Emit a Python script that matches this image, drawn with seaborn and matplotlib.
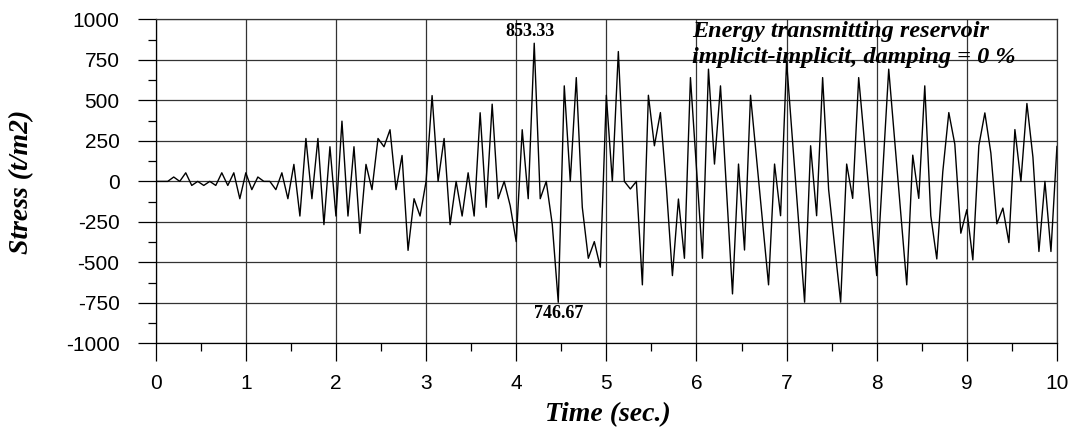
import numpy as np
import pandas as pd
import matplotlib
matplotlib.use("Agg")
import matplotlib.pyplot as plt
import seaborn as sns
from matplotlib.ticker import MultipleLocator

# ---- data ----
dt = 1.0 / 15.0
stress = [
    0, 0, 0, 27, 0, 53, -25, 0, -25, 0,
    -25, 53, -25, 53, -107, 53, -51, 27, 0, 0,
    -51, 53, -107, 105, -214, 265, -107, 265, -267, 214,
    -214, 372, -214, 214, -321, 105, -51, 265, 214, 319,
    -51, 160, -426, -107, -214, 0, 530, 0, 265, -267,
    0, -214, 53, -214, 424, -160, 477, -107, 0, -150,
    -372, 319, -107, 853.33, -107, 0, -265, -746.67, 590, 0,
    641, -160, -475, -372, -530, 532, 0, 802, 0, -47,
    0, -639, 532, 220, 425, -40, -582, -109, -475, 641,
    80, -475, 693, 107, 590, -51, -695, 107, -424, 532,
    142, -249, -639, 107, -212, 740, 250, -249, -746, 220,
    -212, 641, -51, -399, -746, 107, -105, 641, 230, -181,
    -582, 55, 693, 249, -195, -639, 162, -105, 590, -212,
    -479, 60, 425, 230, -320, -175, -485, 221, 423, 175,
    -262, -165, -378, 320, 0, 481, 150, -433, 0, -433,
    217,
]
time = np.arange(len(stress)) * dt
x_ticks = list(range(0, 11))
y_ticks = [-1000, -750, -500, -250, 0, 250, 500, 750, 1000]
title_lines = ["Energy transmitting reservoir", "implicit-implicit, damping = 0 %"]
x_label = "Time (sec.)"
y_label = "Stress (t/m2)"

df = pd.DataFrame({"time": time, "stress": stress})

sns.set_theme(style="white")
plt.rcParams["font.family"] = ["Liberation Sans", "DejaVu Sans"]
plt.rcParams["axes.unicode_minus"] = False
plt.rcParams["text.color"] = "black"

fig = plt.figure(figsize=(10.76, 4.33), dpi=100)
ax = fig.add_axes([0.1447, 0.2072, 0.8376, 0.7478])

sns.lineplot(data=df, x="time", y="stress", color="black", linewidth=1.0, ax=ax)

ax.set_xlim(0, 10)
ax.set_ylim(-1000, 1000)
ax.set_xticks(x_ticks)
ax.set_yticks(y_ticks)
ax.xaxis.set_minor_locator(MultipleLocator(0.5))
ax.yaxis.set_minor_locator(MultipleLocator(125))
ax.grid(True, which="major", color="#333333", linewidth=0.9)
ax.set_axisbelow(True)

for s in ax.spines.values():
    s.set_color("#333333")
    s.set_linewidth(0.9)
ax.spines["left"].set_color("black")
ax.spines["bottom"].set_color("black")

ax.tick_params(axis="both", which="major", direction="out", length=13,
               width=0.9, color="black", labelsize=15, labelcolor="black")
ax.tick_params(axis="both", which="minor", direction="out", length=6,
               width=0.9, color="black")
ax.tick_params(axis="y", which="major", pad=13, left=True)
ax.tick_params(axis="y", which="minor", left=True)
ax.tick_params(axis="x", which="major", pad=9, bottom=True)
ax.tick_params(axis="x", which="minor", bottom=True)

ax.set_xlabel("")
ax.set_ylabel("")

serif = ["Liberation Serif", "DejaVu Serif"]
fig.text(22 / 1076, 1 - 182 / 433, y_label, rotation=90, ha="center", va="center",
         family=serif, fontweight="bold", fontstyle="italic", fontsize=20, color="black")
fig.text(608 / 1076, 1 - 415 / 433, x_label, ha="center", va="center",
         family=serif, fontweight="bold", fontstyle="italic", fontsize=20, color="black")

ax.text(0.595, 0.946, title_lines[0], transform=ax.transAxes, ha="left", va="baseline",
        family=serif, fontweight="bold", fontstyle="italic", fontsize=17.5, color="black")
ax.text(0.595, 0.866, title_lines[1], transform=ax.transAxes, ha="left", va="baseline",
        family=serif, fontweight="bold", fontstyle="italic", fontsize=17.5, color="black")

# peak annotations
arr = np.array(stress)
imax = int(np.argmax(arr))
imin = int(np.argmin(arr))
ax.annotate(f"{arr[imax]:.2f}", xy=(time[imax], arr[imax]), xytext=(-3, 2),
            textcoords="offset points", ha="center", va="bottom",
            family=serif, fontweight="bold", fontsize=13, color="black")
ax.annotate(f"{abs(arr[imin]):.2f}", xy=(time[imin], arr[imin]), xytext=(0, -2),
            textcoords="offset points", ha="center", va="top",
            family=serif, fontweight="bold", fontsize=13, color="black")

fig.savefig("out.png", dpi=100)
